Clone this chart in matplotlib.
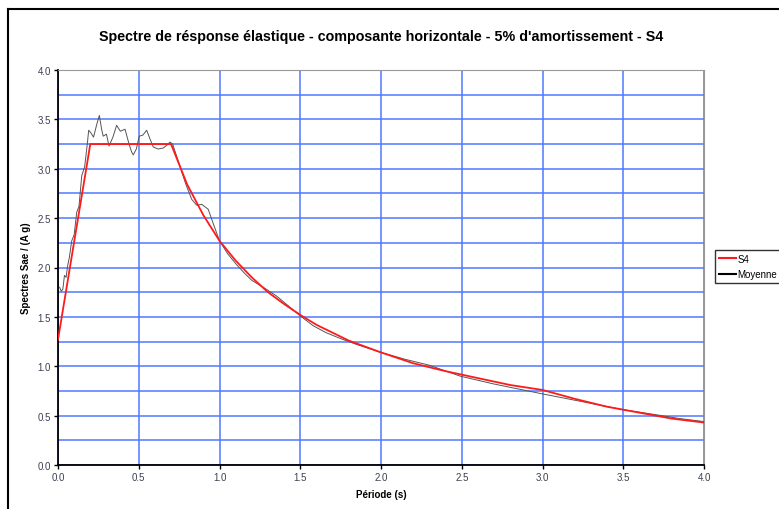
import numpy as np
import matplotlib
matplotlib.use("Agg")
import matplotlib.pyplot as plt
from matplotlib.lines import Line2D

plt.rcParams['font.family'] = ['Liberation Sans', 'DejaVu Sans']

# Spectre reglementaire S4
t_s4 = [0.0, 0.2, 0.7, 0.8, 0.9, 1.0, 1.1, 1.2, 1.3, 1.4, 1.5, 1.6, 1.8, 2.0,
        2.2, 2.4, 2.6, 2.8, 3.0, 3.2, 3.4, 3.6, 3.8, 4.0]
sa_s4 = [1.27, 3.25, 3.25, 2.84, 2.53, 2.27, 2.07, 1.90, 1.75, 1.63, 1.52, 1.42,
         1.26, 1.14, 1.03, 0.95, 0.88, 0.81, 0.76, 0.67, 0.59, 0.53, 0.47, 0.43]

# Moyenne des accelerogrammes
t_moy = [0.01, 0.02, 0.03, 0.04, 0.05, 0.06, 0.07, 0.085, 0.10, 0.116, 0.13,
         0.147, 0.165, 0.18, 0.19, 0.205, 0.22, 0.24, 0.256, 0.27, 0.28, 0.30,
         0.316, 0.34, 0.363, 0.386, 0.415, 0.44, 0.456, 0.466, 0.485, 0.503,
         0.525, 0.549, 0.57, 0.59, 0.62, 0.652, 0.675, 0.693, 0.71, 0.75,
         0.79, 0.828, 0.859, 0.89, 0.93, 0.96, 0.98, 1.0, 1.05, 1.1, 1.15,
         1.2, 1.25, 1.29, 1.354, 1.42, 1.5, 1.58, 1.66, 1.75, 1.85, 2.0,
         2.15, 2.3, 2.49, 2.7, 3.0, 3.25, 3.5, 3.7, 3.85, 4.0]
sa_moy = [1.80, 1.76, 1.78, 1.92, 1.90, 2.02, 2.10, 2.27, 2.33, 2.56, 2.62,
          2.93, 3.02, 3.23, 3.39, 3.36, 3.32, 3.45, 3.54, 3.40, 3.33, 3.35,
          3.23, 3.32, 3.44, 3.38, 3.40, 3.25, 3.17, 3.14, 3.20, 3.33,
          3.34, 3.39, 3.30, 3.22, 3.20, 3.21, 3.24, 3.27, 3.25, 3.05,
          2.85, 2.69, 2.63, 2.64, 2.59, 2.45, 2.36, 2.27, 2.14, 2.04, 1.95,
          1.87, 1.82, 1.78, 1.71, 1.62, 1.51, 1.41, 1.34, 1.28, 1.22, 1.14,
          1.07, 1.01, 0.90, 0.82, 0.72, 0.64, 0.56, 0.51, 0.47, 0.44]

xticks = [0.0, 0.5, 1.0, 1.5, 2.0, 2.5, 3.0, 3.5, 4.0]
yticks = [0.0, 0.5, 1.0, 1.5, 2.0, 2.5, 3.0, 3.5, 4.0]

fig = plt.figure(figsize=(7.79, 5.10), dpi=100)
ax = fig.add_axes([58/779, 44/510, 646/779, 395/510])

ax.set_xlim(0, 4)
ax.set_ylim(0, 4)
ax.set_xticks(xticks)
ax.set_yticks(yticks)
ax.set_xticks(np.arange(0, 4.01, 0.5), minor=True)
ax.set_yticks(np.arange(0, 4.01, 0.25), minor=True)
ax.grid(which='both', color='#4f78ff', lw=1.1)
ax.tick_params(which='minor', length=0)
ax.set_axisbelow(True)
ax.set_xticklabels(['%.1f' % v for v in xticks])
ax.set_yticklabels(['%.1f' % v for v in yticks])
ax.tick_params(labelsize=7, labelcolor='#3c4050', length=3, width=1,
               direction='out', pad=2)

for s in ['top', 'right']:
    ax.spines[s].set_color('#999999')
for s in ['left', 'bottom']:
    ax.spines[s].set_color('black')
    ax.spines[s].set_linewidth(1.3)

l1, = ax.plot(t_s4, sa_s4, color='#ff1a1a', lw=1.3, label='S4', zorder=4)
l2, = ax.plot(t_moy, sa_moy, color='#555555', lw=0.7, label='Moyenne', zorder=3)

ax.set_xlabel('Période (s)', fontsize=7, fontweight='bold', labelpad=5)
ax.set_ylabel('Spectres Sae / (A g)', fontsize=7, fontweight='bold', labelpad=5)
fig.text(381/779, 1 - 37/510, "Spectre de résponse élastique - composante horizontale - 5% d'amortissement - S4",
         ha='center', va='center', fontsize=10.3, fontweight='bold')

leg = fig.legend(handles=[l1, l2], loc='center left', bbox_to_anchor=(715/779, 1 - 267.5/510),
                 fontsize=7, frameon=True, fancybox=False, handlelength=1.8,
                 handletextpad=0.1, borderpad=0.4, labelspacing=0.55, borderaxespad=0)
leg.get_frame().set_edgecolor('black')
leg.get_frame().set_linewidth(1)
for h in leg.legend_handles:
    h.set_linewidth(1.5)
leg.legend_handles[1].set_color('black')

# cadre de la page
fig.add_artist(Line2D([8/779, 8/779], [0, 1 - 10/510], color='black', lw=1.5))
fig.add_artist(Line2D([8/779, 1], [1 - 10/510, 1 - 10/510], color='black', lw=1.5))

fig.savefig('out.png', dpi=100)
